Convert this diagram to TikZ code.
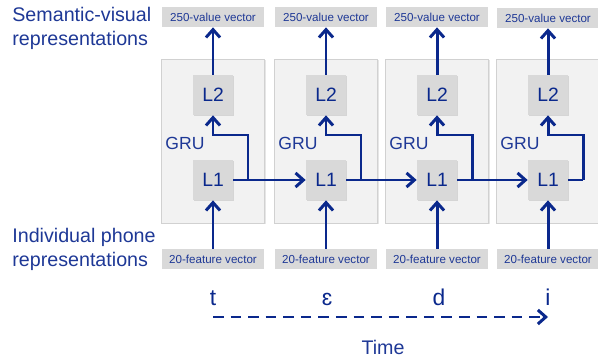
\documentclass[tikz,border=0pt]{standalone}
\usepackage{fontspec}
\setmainfont{Liberation Sans}
\usetikzlibrary{arrows.meta,shadows}
\definecolor{navy}{RGB}{10,40,140}
\definecolor{labelblue}{RGB}{30,56,150}
\definecolor{panelgrey}{RGB}{242,242,242}
\definecolor{boxgrey}{RGB}{217,217,217}
\tikzset{
    panel/.style={draw=black!18, fill=panelgrey, minimum width=2.06cm, minimum height=3.28cm,
        drop shadow={shadow xshift=0.6pt, shadow yshift=-0.6pt, opacity=0.2}},
    layer/.style={fill=boxgrey, minimum size=0.8cm, inner sep=0pt, text=navy,
        font=\fontsize{11}{12}\selectfont,
        drop shadow={shadow xshift=0.8pt, shadow yshift=-0.8pt, opacity=0.25}},
    vec/.style={fill=boxgrey, minimum width=2.06cm, minimum height=0.4cm, inner sep=0pt,
        text=labelblue, font=\fontsize{6.6}{8}\selectfont},
    gru/.style={text=labelblue, inner sep=0pt, font=\fontsize{10}{12}\selectfont},
    phone/.style={text=navy, inner sep=0pt, font=\fontsize{13}{15}\selectfont},
    sidetext/.style={text=labelblue, inner sep=0pt, align=left, font=\fontsize{11.2}{13.6}\selectfont},
    link/.style={draw=navy, line width=1.7pt, -{Straight Barb[length=4.5pt,width=8pt]}},
    timeline/.style={draw=navy, line width=1.7pt, dash pattern=on 6pt off 4pt,
        -{Straight Barb[length=4.5pt,width=8pt]}},
}
\begin{document}
\begin{tikzpicture}[x=0.02cm,y=0.02cm]
    \useasboundingbox (0,0) rectangle (598,358);

    % panels
    \node[panel] (Pt) at (213,217) {};
    \node[panel] (Pe) at (326,217) {};
    \node[panel] (Pd) at (437,217) {};
    \node[panel] (Pi) at (548,217) {};

    \node[sidetext, anchor=west] (Sem) at (12,330) {Semantic-visual\\representations};
    \node[sidetext, anchor=west] (Ind) at (12,108.5) {Individual phone\\representations};

    % output vectors
    \node[vec] (Vt) at (213,341) {250-value vector};
    \node[vec] (Ve) at (326,341) {250-value vector};
    \node[vec] (Vd) at (437,341) {250-value vector};
    \node[vec] (Vi) at (548,340) {250-value vector};

    % input vectors
    \node[vec] (Ft) at (213,99) {20-feature vector};
    \node[vec] (Fe) at (326,99) {20-feature vector};
    \node[vec] (Fd) at (437,99) {20-feature vector};
    \node[vec] (Fi) at (548,99) {20-feature vector};

    % layers
    \node[layer] (L2t) at (213,263) {L2};
    \node[layer] (L2e) at (326,263) {L2};
    \node[layer] (L2d) at (437,263) {L2};
    \node[layer] (L2i) at (548,263) {L2};
    \node[layer] (L1t) at (213,178) {L1};
    \node[layer] (L1e) at (326,178) {L1};
    \node[layer] (L1d) at (437,178) {L1};
    \node[layer] (L1i) at (548,178) {L1};

    \node[gru] (Gt) at (185,215) {GRU};
    \node[gru] (Ge) at (298,215) {GRU};
    \node[gru] (Gd) at (409,215) {GRU};
    \node[gru] (Gi) at (520,215) {GRU};

    \coordinate (Kt) at (248,223);
    \coordinate (Ke) at (361,223);
    \coordinate (Kd) at (472,223);
    \coordinate (Ki) at (583,223);

    % connections
    \draw[link] (Ft) -- (L1t);
    \draw[link] (Fe) -- (L1e);
    \draw[link] (Fd) -- (L1d);
    \draw[link] (Fi) -- (L1i);

    \draw[link] (L1t) -- (L1e);
    \draw[link] (L1e) -- (L1d);
    \draw[link] (L1d) -- (L1i);
    \draw[draw=navy, line width=1.7pt] (L1i.east) -- (L1i.east -| Ki);

    \draw[link] (L1t.east -| Kt) -- (Kt) -| (L2t.south);
    \draw[link] (L1e.east -| Ke) -- (Ke) -| (L2e.south);
    \draw[link] (L1d.east -| Kd) -- (Kd) -| (L2d.south);
    \draw[link] (L1i.east -| Ki) -- (Ki) -| (L2i.south);

    \draw[link] (L2t) -- (Vt);
    \draw[link] (L2e) -- (Ve);
    \draw[link] (L2d) -- (Vd);
    \draw[link] (L2i) -- (Vi);

    % phones and time
    \node[phone, anchor=base] (St) at (213,52) {t};
    \node[phone, anchor=base] (Se) at (327,52) {ɛ};
    \node[phone, anchor=base] (Sd) at (439,52) {d};
    \node[phone, anchor=base] (Si) at (548,52) {i};

    \coordinate (Tbeg) at (213,41);
    \coordinate (Tend) at (548,41);
    \draw[timeline] (Tbeg) -- (Tend);
    \node[sidetext] (Time) at (383,11) {Time};
\end{tikzpicture}
\end{document}
